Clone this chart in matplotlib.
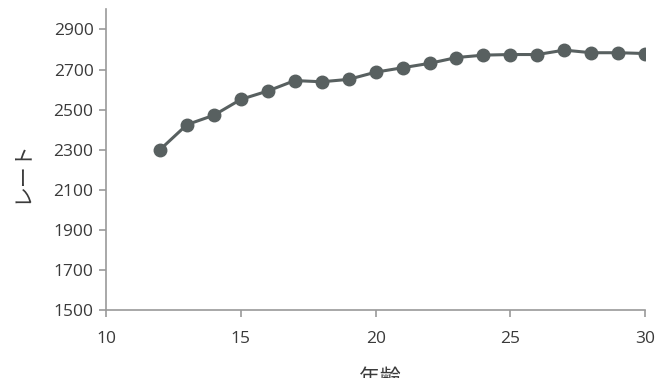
import matplotlib
matplotlib.use("Agg")
import matplotlib.pyplot as plt


# -----------------------------
# Data
# -----------------------------
ages = [12, 13, 14, 15, 16, 17, 18, 19, 20, 21,
        22, 23, 24, 25, 26, 27, 28, 29, 30]

rates = [2300, 2425, 2472, 2551, 2593, 2645, 2639, 2651, 2687, 2709,
         2731, 2760, 2772, 2775, 2775, 2797, 2784, 2784, 2780]

x_ticks = [10, 15, 20, 25, 30]
y_ticks = [1500, 1700, 1900, 2100, 2300, 2500, 2700, 2900]


plt.rcParams["font.family"] = ["Open Sans", "Noto Sans CJK JP", "DejaVu Sans"]


# -----------------------------
# Plot
# -----------------------------
fig = plt.figure(figsize=(6.59, 3.78), dpi=100)

ax = fig.add_axes([0.161, 0.180, 0.818, 0.795])

ax.plot(

    ages,

    rates,

    color="#586060",

    linewidth=2.2,

    marker="o",

    markersize=9
)

ax.set_xlim(10, 30)
ax.set_ylim(1500, 3000)

ax.set_xticks(x_ticks)
ax.set_yticks(y_ticks)

for side in ["top", "right"]:
    ax.spines[side].set_visible(False)

for side in ["left", "bottom"]:
    ax.spines[side].set_color("#9a9a9a")
    ax.spines[side].set_linewidth(1.2)

ax.tick_params(

    axis="both",

    direction="out",

    length=5,

    width=1.2,

    color="#9a9a9a",

    labelsize=12.5,

    labelcolor="#3a3a3a"
)

ax.tick_params(axis="x", pad=10)
ax.tick_params(axis="y", pad=4)

fig.text(
    0.032, 0.545, "レート",
    rotation=90, ha="center", va="center",
    fontsize=15, color="#3a3a3a"
)

fig.text(
    0.577, 0.0, "年齢",
    ha="center", va="center",
    fontsize=15, color="#3a3a3a"
)

fig.savefig("out.png", dpi=100)
plt.close(fig)
